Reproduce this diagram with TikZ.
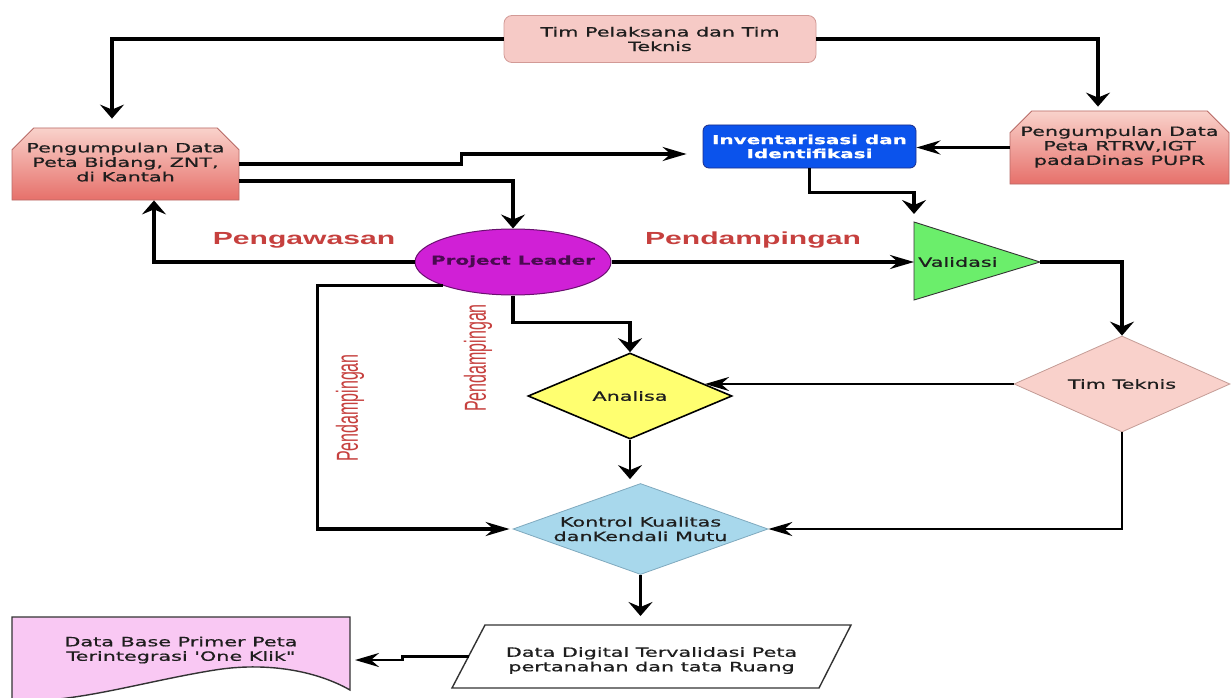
\documentclass[tikz,border=0pt]{standalone}
\usepackage{fontspec}
\setmainfont{DejaVu Sans}
\newfontfamily\cs[FakeStretch=1.62,FakeBold=0.7,Ligatures=TeXOff]{DejaVu Sans}
\newfontfamily\rl[FakeStretch=1.72]{Liberation Sans}
\newfontfamily\rv{Liberation Sans}
\usetikzlibrary{shapes.geometric,shapes.misc,arrows.meta,calc}

\definecolor{txt}{HTML}{1E1E1E}
\definecolor{pinkbox}{HTML}{F6CAC6}
\definecolor{pinkedge}{HTML}{D29A96}
\definecolor{grtop}{HTML}{F9D2CB}
\definecolor{grbot}{HTML}{E6706A}
\definecolor{gredge}{HTML}{B86A66}
\definecolor{invblue}{HTML}{0B53EC}
\definecolor{invedge}{HTML}{1C2E8A}
\definecolor{magentaA}{HTML}{D020D6}
\definecolor{pledge}{HTML}{6A1070}
\definecolor{pltext}{HTML}{4A0A50}
\definecolor{valgreen}{HTML}{6BEE6B}
\definecolor{anyellow}{HTML}{FFFF70}
\definecolor{ttpink}{HTML}{F9D1CB}
\definecolor{ttedge}{HTML}{C49C96}
\definecolor{koblue}{HTML}{A8D8EC}
\definecolor{koedge}{HTML}{7FA9BE}
\definecolor{docpink}{HTML}{F9C8F3}
\definecolor{lblred}{HTML}{C6403E}

\newcommand{\zbox}[1]{\makebox[0pt]{\begin{tabular}{@{}c@{}}#1\end{tabular}}}

\tikzset{
  cstext/.style={font=\cs\fontsize{12.8}{14.5}\selectfont, text=txt, align=center},
  chbox/.style={chamfered rectangle, chamfered rectangle corners={north west,north east},
    chamfered rectangle xsep=25pt, chamfered rectangle ysep=12pt,
    draw=gredge, line width=0.8pt, top color=grtop, bottom color=grbot, inner sep=0pt, cstext},
  conn/.style={line width=3.2pt, draw=black},
  av/.style={conn, -{Stealth[length=14pt,width=24pt,inset=5pt]}},
  ah/.style={conn, -{Stealth[length=24pt,width=14pt,inset=8pt]}},
  redlbl/.style={font=\rl\bfseries\fontsize{17.5}{18}\selectfont, text=lblred},
  vlbl/.style={rotate=90, font=\rv\fontsize{16}{16}\selectfont, text=lblred, inner sep=0pt}
}

\begin{document}
\begin{tikzpicture}[x=1pt,y=-1pt]
\path[use as bounding box, fill=white] (0,0) rectangle (1231,698);
\clip (0,0) rectangle (1231,698);

% nodes
\node[rounded corners=8pt, draw=pinkedge, line width=0.8pt, fill=pinkbox, minimum width=312pt,
  minimum height=47pt, inner sep=0pt, cstext] (top) at (660,39) {Tim Pelaksana dan Tim\\Teknis};
\node[chbox, minimum width=227pt, minimum height=72pt] (lb) at (125.5,164)
  {\zbox{Pengumpulan Data\\Peta Bidang, ZNT,\\di Kantah}};
\node[chbox, minimum width=219pt, minimum height=73pt] (rb) at (1119.5,147.5)
  {\zbox{Pengumpulan Data\\Peta RTRW,IGT\\padaDinas PUPR}};
\node[rounded corners=6pt, draw=invedge, line width=0.8pt, fill=invblue, minimum width=213pt,
  minimum height=43pt, inner sep=0pt, cstext, text=white, font=\cs\bfseries\fontsize{12.3}{14}\selectfont]
  (inv) at (809.5,146.5) {Inventarisasi dan\\Identifikasi};
\node[ellipse, draw=pledge, line width=1pt, fill=magentaA, minimum width=196pt, minimum height=66pt,
  inner sep=0pt, font=\cs\bfseries\fontsize{12.3}{13}\selectfont, text=pltext] (pl) at (513,262)
  {\makebox[0pt]{\raisebox{4pt}{Project Leader}}};

% Validasi triangle
\coordinate (valTL) at (914,222);
\coordinate (valBL) at (914,300);
\coordinate (valR) at (1040,262);
\coordinate (valL) at (914,262);
\draw[draw=black!80, line width=0.9pt, fill=valgreen] (valTL) -- (valBL) -- (valR) -- cycle;
\node[cstext, anchor=west, inner sep=0pt] (valtxt) at (918,262) {Validasi};

\node[diamond, aspect=2.37, draw=black, line width=1.6pt, fill=anyellow, minimum width=204pt, minimum height=86pt,
  inner sep=0pt, cstext] (an) at (630,396) {Analisa};
\node[diamond, aspect=2.25, draw=ttedge, line width=0.8pt, fill=ttpink, minimum width=216pt, minimum height=96pt,
  inner sep=0pt, cstext] (tt) at (1122,384) {Tim Teknis};
\node[diamond, aspect=2.8, draw=koedge, line width=0.8pt, fill=koblue, minimum width=255pt, minimum height=91pt,
  inner sep=0pt, cstext] (ko) at (640.5,529) {Kontrol Kualitas\\danKendali Mutu};

% Data digital parallelogram
\draw[line width=1.4pt, draw=black!80, fill=white] (485,625) -- (851,625) -- (819,688) -- (452,688) -- cycle;
\coordinate (ddT) at (651.5,625);
\coordinate (ddL) at (468.5,656.5);
\node[cstext] (dd) at (651.5,660.5) {Data Digital Tervalidasi Peta\\pertanahan dan tata Ruang};

% Document
\draw[line width=1.4pt, draw=black!80, fill=docpink] (12,617) -- (350,617) -- (350,690)
  .. controls (315,670) and (265,662) .. (215,670)
  .. controls (140,682) and (70,705) .. (12,700) -- cycle;
\coordinate (docR) at (350,660);
\node[cstext] (doc) at (181,650) {Data Base Primer Peta\\Terintegrasi 'One Klik"};

% labels
\node[redlbl] (lpeng) at (304,240) {Pengawasan};
\node[redlbl] (lpend) at (753,240) {Pendampingan};
\node[vlbl] (v1) at (350,408) {\scalebox{1}[1.9]{Pendampingan}};
\node[vlbl] (v2) at (478,358) {\scalebox{1}[1.9]{Pendampingan}};

% connectors
\draw[av, shorten >=9pt] (top.west) -| ([xshift=-13.5pt]lb.north);
\draw[av, shorten >=4pt] (top.east) -| ([xshift=-21.5pt]rb.north);
\draw[ah] (rb.west) -- (rb.west -| inv.east);
\draw[ah, shorten >=16pt] (lb.east) -- ++(222,0) |- ([yshift=-7.5pt]inv.west);
\draw[av] ([yshift=-17pt]lb.east) -| (pl.north);
\draw[av] (pl.west) -| ([xshift=28.5pt]lb.south);
\draw[ah] (pl.east) -- (valL);
\draw[av, shorten >=8pt] (inv.south) -- ++(0,24) -| (valTL);
\draw[av] (valR) -| (tt.north);
\coordinate (anr) at ($(an.east)!0.27!(an.north)$);
\draw[ah, line width=2.4pt] (tt.west) -- (tt.west -| anr);
\draw[av] (pl.south) -- ++(0,27) -| (an.north);
\draw[ah, shorten >=3pt] (pl.south west) -| ([xshift=-195pt]ko.west) -- (ko.west);
\draw[av, line width=2.4pt, shorten >=4pt] (an.south) -- (an.south |- ko.north);
\draw[ah, line width=2.2pt] (tt.south) |- (ko.east);
\draw[av, shorten >=9pt] (ko.south) -- (ko.south |- ddT);
\draw[ah, line width=2.8pt, shorten >=5pt] (ddL) -- ++(-66,0) |- (docR);
\end{tikzpicture}
\end{document}
